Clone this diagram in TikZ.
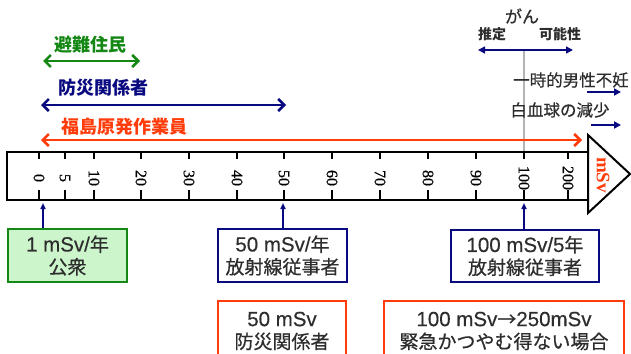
\documentclass[tikz,border=0pt]{standalone}
\usepackage{fontspec}
\setmainfont{Liberation Serif}
\newfontfamily\numf[FakeBold=0.5]{Liberation Serif}
\newfontfamily\jp{Noto Sans CJK JP}
\newfontfamily\jpm[FakeBold=0.6]{Noto Sans CJK JP}
\newfontfamily\lsf[FakeBold=0.4]{Liberation Sans}
\newcommand\ls{\lsf\fontsize{20.5}{22}\selectfont}
\usetikzlibrary{arrows.meta}
\definecolor{grn}{RGB}{20,135,20}
\definecolor{nav}{RGB}{10,10,128}
\definecolor{ora}{RGB}{255,60,10}
\definecolor{dk}{RGB}{45,45,45}
\definecolor{lgrn}{RGB}{204,245,204}
\definecolor{gry}{RGB}{180,180,180}
\tikzset{
  rul/.style={line width=2pt},
  tk/.style={line width=1.2pt},
  num/.style={font=\numf\fontsize{16}{16}\selectfont, rotate=-90, inner sep=0pt},
  dbl/.style={line width=2.5pt, {Straight Barb[length=6pt,width=12pt]}-{Straight Barb[length=6pt,width=12pt]}},
  lab/.style={font=\jp\bfseries\fontsize{18}{18}\selectfont, inner sep=0pt},
  sml/.style={font=\jpm\fontsize{16.5}{16.5}\selectfont, text=dk, inner sep=0pt},
  smlb/.style={font=\jp\bfseries\fontsize{14}{14}\selectfont, text=dk, inner sep=0pt},
  tri/.style={nav, line width=2pt, -{Triangle[length=7pt,width=7pt]}},
  uparr/.style={nav, line width=1.5pt, -{Triangle[length=6pt,width=5pt]}},
  box/.style={line width=2.5pt, rectangle, align=center, text=dk, inner sep=0pt,
     font=\jpm\fontsize{19}{22.5}\selectfont}
}
\begin{document}
\begin{tikzpicture}[x=1pt,y=-1pt]
\useasboundingbox (0,0) rectangle (631,353);
\clip (0,0) rectangle (631,353);
% gray guide line at 100
\coordinate (g1) at (524,50);
\coordinate (g2) at (524,152);
\draw[gry, line width=2pt] (g1) -- (g2);
% ruler
\draw[rul] (588,152) -- (7,152) -- (7,200) -- (588,200);
\draw[rul, line join=miter] (588,135) -- (630,174) -- (588,213) -- cycle;
\foreach \x/\n in {39/0,65/5,94/10,141/20,189/30,237/40,284/50,332/60,380/70,428/80,476/90,524/100,568/200}{
  \draw[tk] (\x,152) -- (\x,159) (\x,190) -- (\x,200);
  \node[num] (n\n) at (\x,178) {\n};
}
\node[font=\bfseries\fontsize{19}{19}\selectfont, text=ora, rotate=-90, inner sep=0pt] (unit) at (603,175) {mSv};
% left range arrows
\coordinate (gA) at (43,61); \coordinate (gB) at (140,61);
\draw[dbl, grn] (gA) -- (gB);
\node[lab, text=grn] (tg) at (90,45) {避難住民};
\coordinate (bA) at (41,105); \coordinate (bB) at (286,105);
\draw[dbl, nav] (bA) -- (bB);
\node[lab, text=nav] (tb) at (103,88) {防災関係者};
\coordinate (rA) at (41,140); \coordinate (rB) at (582,140);
\draw[dbl, ora] (rA) -- (rB);
\node[lab, text=ora] (tr) at (124,127) {福島原発作業員};
% cancer
\coordinate (cA) at (478,50); \coordinate (cB) at (573,50);
\draw[nav, line width=1.5pt, {Triangle[length=7pt,width=7pt]}-{Triangle[length=7pt,width=7pt]}] (cA) -- (cB);
\node[sml, font=\jpm\fontsize{17}{17}\selectfont] (gan) at (522,16) {がん};
\node[smlb] (sui) at (492,34) {推定};
\node[smlb] (kan) at (560,34) {可能性};
% right effects
\node[sml] (fu) at (571,80) {一時的男性不妊};
\coordinate (fA) at (587,92); \coordinate (fB) at (621,92);
\draw[tri] (fA) -- (fB);
\node[sml] (wb) at (560,110) {白血球の減少};
\coordinate (wA) at (591,125); \coordinate (wB) at (621,125);
\draw[tri] (wA) -- (wB);
% boxes
\node[box, draw=grn, fill=lgrn, minimum width=119, minimum height=53] (b1) at (67.5,255.5) {{\ls 1 mSv/}年\\公衆};
\node[box, draw=nav, fill=white, minimum width=129, minimum height=53] (b2) at (282.5,255.5) {{\ls 50 mSv/}年\\放射線従事者};
\node[box, draw=nav, fill=white, minimum width=148, minimum height=52] (b3) at (525,256) {{\ls 100 mSv/5}年\\放射線従事者};
\node[box, draw=ora, fill=white, minimum width=128, minimum height=60] (b4) at (282,331) {{\ls 50 mSv}\\防災関係者};
\node[box, draw=ora, fill=white, minimum width=240, minimum height=60] (b5) at (504,331) {{\ls 100 mSv}→{\ls 250mSv}\\緊急かつやむ得ない場合};
% arrows to ruler
\coordinate (a1) at (43,203);
\coordinate (a2) at (283,203);
\coordinate (a3) at (524,203);
\draw[uparr] (b1.north -| a1) -- (a1);
\draw[uparr] (b2.north -| a2) -- (a2);
\draw[uparr] (b3.north -| a3) -- (a3);
\end{tikzpicture}
\end{document}
